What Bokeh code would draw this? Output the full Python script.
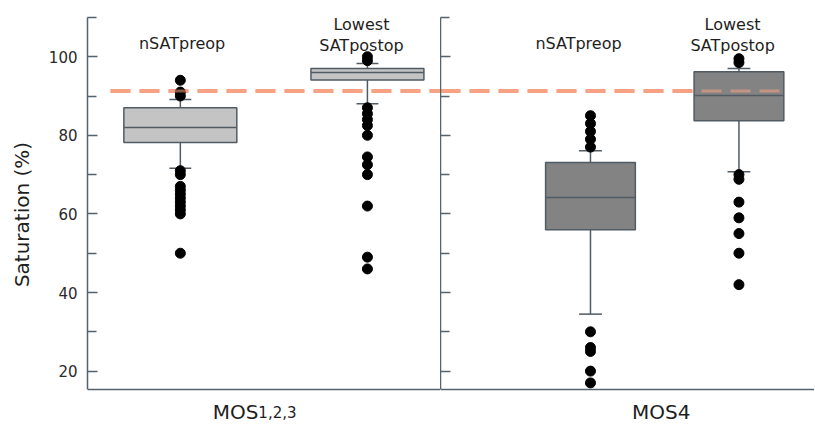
from bokeh.plotting import figure
from bokeh.models import Range1d, FixedTicker, Label, Span
from bokeh.layouts import row
from bokeh.embed import file_html
from bokeh.resources import INLINE

# ---------------- data ----------------
panels = ["MOS1,2,3", "MOS1,2,3", "MOS4", "MOS4"]
series = ["nSATpreop", "Lowest SATpostop", "nSATpreop", "Lowest SATpostop"]
q1 = [78.2, 94.1, 56.0, 83.7]
median = [82.0, 96.0, 64.2, 90.1]
q3 = [87.0, 97.0, 73.1, 96.2]
whisker_low = [71.6, 88.0, 34.5, 70.7]
whisker_high = [89.1, 98.3, 76.1, 97.0]
outliers_mos123_pre = [94, 91, 90, 71, 70, 67, 66, 65, 64, 63, 62, 61, 60, 50]
outliers_mos123_post = [100, 99, 87, 85.5, 84, 82.5, 80, 74.5, 72.5, 70, 62, 49, 46]
outliers_mos4_pre = [85, 83, 81, 79, 77, 30, 26, 25, 20, 17]
outliers_mos4_post = [99.5, 98.5, 70, 68.8, 63, 59, 55, 50, 42]
outliers = [outliers_mos123_pre, outliers_mos123_post, outliers_mos4_pre, outliers_mos4_post]
reference_line = 91.3
y_major = [20, 40, 60, 80, 100]
y_minor = [30, 50, 70, 90, 110]
axis_min, axis_max = 15.3, 110.0

# ---------------- layout / style constants ----------------
POS = [0.263, 0.793, 0.401, 0.798]
BOX_W = [0.32, 0.32, 0.24, 0.24]
CAP_W = [0.062, 0.062, 0.061, 0.061]
FILL = ["#c4c4c4", "#c4c4c4", "#838383", "#838383"]
EDGE = "#505b64"
AXIS = "#56626c"
DASH_COLOR = "#f6a283"
FONT = "DejaVu Sans"
TXT = "#1e1e1e"

VIEW_LO, VIEW_HI = 5.4, 114.3   # visible range (frame fills the whole figure height)
H = 428


def make_fig(width, left_border, show_labels):
    p = figure(width=width, height=H, x_range=Range1d(0, 1), y_range=Range1d(VIEW_LO, VIEW_HI),
               output_backend="svg", toolbar_location=None,
               min_border_left=left_border, min_border_right=0,
               min_border_top=0, min_border_bottom=0)
    p.outline_line_color = None
    p.xgrid.visible = False
    p.ygrid.visible = False
    p.background_fill_color = "white"
    p.border_fill_color = "white"
    p.xaxis.visible = False
    # y axis
    ya = p.yaxis[0]
    ya.bounds = (axis_min, axis_max)
    ya.ticker = FixedTicker(ticks=y_major, minor_ticks=y_minor)
    ya.axis_line_color = AXIS
    ya.axis_line_width = 1.5
    ya.major_tick_line_color = AXIS
    ya.minor_tick_line_color = AXIS
    ya.major_tick_line_width = 1.3
    ya.minor_tick_line_width = 1.3
    ya.major_tick_in = 10
    ya.major_tick_out = 0
    ya.minor_tick_in = 9
    ya.minor_tick_out = 0
    if show_labels:
        ya.major_label_text_font = FONT
        ya.major_label_text_font_size = "15px"
        ya.major_label_text_color = "#2a2a2a"
        ya.major_label_standoff = 10
        ya.axis_label = "Saturation (%)"
        ya.axis_label_text_font = FONT
        ya.axis_label_text_font_size = "20px"
        ya.axis_label_text_font_style = "normal"
        ya.axis_label_text_color = TXT
        ya.axis_label_standoff = 12
    else:
        ya.major_label_overrides = {t: "" for t in y_major}
        ya.major_label_standoff = 0
    # bottom axis line
    p.add_layout(Span(location=axis_min, dimension="width", line_color=AXIS, line_width=1.5))
    return p


p1 = make_fig(440, 87, True)
p2 = make_fig(374, 0, False)
figs = [p1, p1, p2, p2]

# reference dashed line (under the marks)
p1.segment(x0=[0.065], x1=[1.0], y0=[reference_line], y1=[reference_line],
           line_color=DASH_COLOR, line_width=4, line_dash="20 9", level="underlay")
p2.segment(x0=[0.0], x1=[0.93], y0=[reference_line], y1=[reference_line],
           line_color=DASH_COLOR, line_width=4, line_dash="20 9", level="underlay")

for i in range(4):
    p = figs[i]
    x = POS[i]
    w = BOX_W[i]
    c = CAP_W[i]
    # whiskers
    p.segment(x0=[x, x], x1=[x, x], y0=[q3[i], q1[i]], y1=[whisker_high[i], whisker_low[i]],
              line_color=EDGE, line_width=1.5)
    p.segment(x0=[x - c / 2, x - c / 2], x1=[x + c / 2, x + c / 2],
              y0=[whisker_high[i], whisker_low[i]], y1=[whisker_high[i], whisker_low[i]],
              line_color=EDGE, line_width=1.5)
    # box
    p.vbar(x=[x], width=w, bottom=[q1[i]], top=[q3[i]], fill_color=FILL[i],
           line_color=EDGE, line_width=1.5)
    # median
    p.segment(x0=[x - w / 2], x1=[x + w / 2], y0=[median[i]], y1=[median[i]],
              line_color=EDGE, line_width=1.5)
    # outliers
    p.scatter(x=[x] * len(outliers[i]), y=outliers[i], size=10,
              fill_color="black", line_color="black")

# reference line shows faintly over the marks, as in the original
p1.segment(x0=[0.065], x1=[1.0], y0=[reference_line], y1=[reference_line],
           line_color=DASH_COLOR, line_width=3, line_dash="20 9", line_alpha=0.55)
p2.segment(x0=[0.0], x1=[0.93], y0=[reference_line], y1=[reference_line],
           line_color=DASH_COLOR, line_width=3, line_dash="20 9", line_alpha=0.55)

# series labels above boxes
LBL_X = [0.268, 0.776, 0.369, 0.781]
for i in range(4):
    p = figs[i]
    if series[i] == "nSATpreop":
        p.add_layout(Label(x=LBL_X[i], y=103.3, text=series[i], text_align="center",
                           text_baseline="alphabetic", text_font=FONT,
                           text_font_size="16px", text_color=TXT))
    else:
        w1, w2 = series[i].split(" ")
        p.add_layout(Label(x=LBL_X[i], y=108.1, text=w1, text_align="center",
                           text_baseline="alphabetic", text_font=FONT,
                           text_font_size="16px", text_color=TXT))
        p.add_layout(Label(x=LBL_X[i], y=102.9, text=w2, text_align="center",
                           text_baseline="alphabetic", text_font=FONT,
                           text_font_size="16px", text_color=TXT))

# panel labels below the axis
p1.add_layout(Label(x=0.484, y=9.6, text="MOS", text_align="right",
                    text_baseline="alphabetic", text_font=FONT, text_font_size="20px",
                    text_color=TXT))
p1.add_layout(Label(x=0.484, y=9.6, text="1,2,3", text_align="left",
                    text_baseline="alphabetic", text_font=FONT, text_font_size="15px",
                    text_color=TXT))
p2.add_layout(Label(x=0.59, y=9.6, text="MOS4", text_align="center",
                    text_baseline="alphabetic", text_font=FONT, text_font_size="20px",
                    text_color=TXT))

layout = row(p1, p2, spacing=0)
open("out.html", "w").write(file_html(layout, INLINE))
